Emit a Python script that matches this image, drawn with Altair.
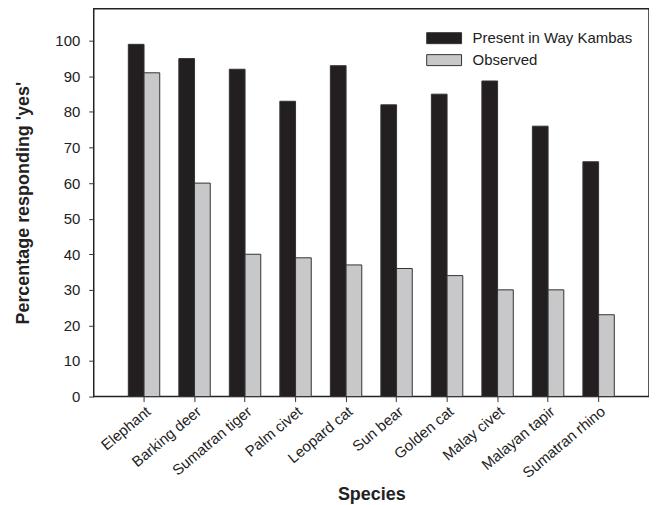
import altair as alt
import pandas as pd

species = ["Elephant", "Barking deer", "Sumatran tiger", "Palm civet", "Leopard cat",
           "Sun bear", "Golden cat", "Malay civet", "Malayan tapir", "Sumatran rhino"]
series = ["Present in Way Kambas", "Observed"]
present = [99, 95, 92, 83, 93, 82, 85, 88.7, 76, 66]
observed = [91, 60, 40, 39, 37, 36, 34, 30, 30, 23]

rows = []
for s, p, o in zip(species, present, observed):
    rows.append({"Species": s, "Series": series[0], "Value": p})
    rows.append({"Species": s, "Series": series[1], "Value": o})
df = pd.DataFrame(rows)

FONT = "Liberation Sans"

chart = alt.Chart(df).mark_bar(stroke="#333333", strokeWidth=1).encode(
    x=alt.X("Species:N", sort=species,
            scale=alt.Scale(paddingInner=0.378, paddingOuter=0, range=[34.7, 522.2]),
            axis=alt.Axis(title="Species", labelAngle=-40, labelAlign="right",
                          labelBaseline="top", labelFontSize=15,
                          titleFontSize=18, titleFontWeight="bold", titlePadding=5,
                          tickSize=5, labelPadding=2, domain=False)),
    xOffset=alt.XOffset("Series:N", sort=series,
                        scale=alt.Scale(paddingInner=0, paddingOuter=0)),
    y=alt.Y("Value:Q", scale=alt.Scale(domain=[0, 109], nice=False),
            axis=alt.Axis(title="Percentage responding 'yes'", values=list(range(0, 101, 10)),
                          labelFontSize=15, titleFontSize=18, titleFontWeight="bold",
                          titlePadding=22, tickSize=5, labelPadding=9, domain=False,
                          grid=False)),
    color=alt.Color("Series:N", sort=series,
                    scale=alt.Scale(domain=series, range=["#231f20", "#c8c8ca"]),
                    legend=alt.Legend(title=None, orient="none", legendX=344, legendY=22,
                                      symbolType="M-3.18,-1H3.18V1H-3.18Z", symbolSize=121,
                                      symbolStrokeColor="#333333", symbolStrokeWidth=1,
                                      labelFontSize=15, labelFont=FONT, labelOffset=21,
                                      labelLimit=300, labelColor="#222222", rowPadding=6)),
).properties(
    width=557, height=389, padding={"left": 6, "top": 0, "right": 0, "bottom": 0}
).configure_view(
    stroke="#222222", strokeWidth=1.5
).configure_axis(
    labelFont=FONT, titleFont=FONT, labelColor="#222222", titleColor="#222222",
    tickColor="#333333", grid=False
)

chart.save("out.html", embed_options={"renderer": "svg", "actions": False})
